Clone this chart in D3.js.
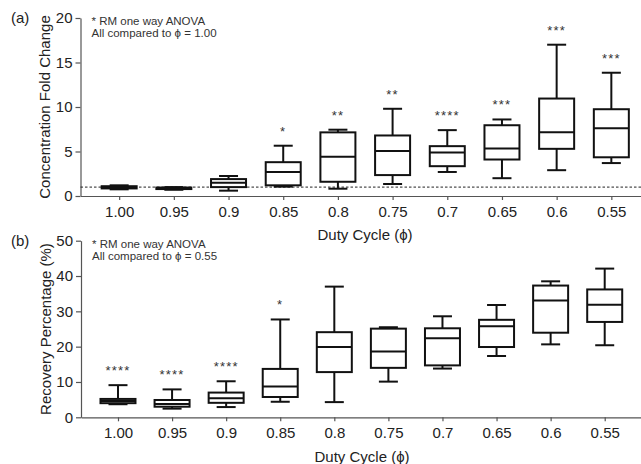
<!DOCTYPE html>
<html lang="en">
  <head>
    <meta charset="utf-8">
    <title>Duty cycle box plots</title>
    <script src="https://d3js.org/d3.v7.min.js"></script>
    <style>
      body { margin: 0; background: #fff; }
      text { font-family: "Liberation Sans", Arial, sans-serif; }
    </style>
  </head>
  <body>
  <script>

// data
  var dutyCycles = ["1.00", "0.95", "0.9", "0.85", "0.8", "0.75", "0.7", "0.65", "0.6", "0.55"];

  var foldMin = [0.75, 0.7, 0.6, 1.05, 0.82, 1.35, 2.7, 2.0, 2.9, 3.7];
  var foldQ1  = [0.85, 0.78, 1.0, 1.2, 1.6, 2.35, 3.35, 4.1, 5.3, 4.35];
  var foldMed = [1.0, 0.85, 1.5, 2.7, 4.4, 5.05, 4.9, 5.35, 7.15, 7.6];
  var foldQ3  = [1.1, 0.95, 1.9, 3.8, 7.15, 6.8, 5.6, 7.95, 10.95, 9.75];
  var foldMax = [1.2, 1.0, 2.25, 5.65, 7.45, 9.8, 7.4, 8.6, 17.0, 13.85];
  var foldStars = ["", "", "", "*", "**", "**", "****", "***", "***", "***"];
  var foldTicks = [0, 5, 10, 15, 20];

  var recMin = [3.7, 2.45, 2.9, 4.4, 4.3, 10.1, 13.8, 17.35, 20.65, 20.4];
  var recQ1  = [4.0, 3.0, 4.1, 5.75, 12.8, 14.0, 14.7, 19.9, 23.95, 27.0];
  var recMed = [4.6, 3.8, 5.4, 8.7, 19.9, 18.6, 22.4, 25.8, 33.1, 31.9];
  var recQ3  = [5.2, 4.9, 7.0, 13.7, 24.1, 25.1, 25.2, 27.6, 37.3, 36.2];
  var recMax = [9.1, 7.9, 10.2, 27.7, 37.0, 25.5, 28.6, 31.8, 38.5, 42.1];
  var recStars = ["****", "****", "****", "*", "", "", "", "", "", ""];
  var recTicks = [0, 10, 20, 30, 40, 50];

  var w = 641;
  var h = 464;
  var boxW = 35;
  var capHalf = 9.5;
  var ink = "#111";
  var axisCol = "#555";

  var svg = d3.select("body")
    .append("svg")
      .attr("width", w)
      .attr("height", h);

  function rows(mins, q1s, meds, q3s, maxs, stars) {
    return dutyCycles.map((c, i) => ({cat: c, min: mins[i], q1: q1s[i], med: meds[i],
      q3: q3s[i], max: maxs[i], star: stars[i]}));
  }

  function drawPanel(opt) {
    var g = svg.append("g");
    var x = d3.scalePoint()
        .domain(dutyCycles)
        .range(opt.xRange)
        .padding(opt.pad);
    var y = d3.scaleLinear()
        .domain([0, opt.yMax])
        .range([opt.y0, opt.y1]);

    // y axis
    var yAx = g.append("g")
        .attr("transform", `translate(${opt.xRange[0]},0)`)
        .call(d3.axisLeft(y).tickValues(opt.ticks).tickSize(5).tickSizeOuter(0).tickPadding(3));
    yAx.select(".domain").attr("stroke", axisCol).attr("stroke-width", 1.2);
    yAx.selectAll(".tick line").attr("stroke", axisCol).attr("stroke-width", 1.2);
    yAx.selectAll("text").attr("font-size", 15).attr("fill", "#222")
        .attr("font-family", "Liberation Sans, Arial, sans-serif");

    // x axis
    var xAx = g.append("g")
        .attr("transform", `translate(0,${opt.y0})`)
        .call(d3.axisBottom(x).tickSize(4).tickSizeOuter(0).tickPadding(6));
    xAx.select(".domain").attr("stroke", axisCol).attr("stroke-width", 1.2);
    xAx.selectAll(".tick line").attr("stroke", axisCol).attr("stroke-width", 1.2);
    xAx.selectAll("text").attr("font-size", 15).attr("fill", "#222")
        .attr("font-family", "Liberation Sans, Arial, sans-serif");

    // reference line
    if (opt.refLine != null) {
      g.append("line")
          .attr("x1", opt.xRange[0])
          .attr("x2", w)
          .attr("y1", y(opt.refLine))
          .attr("y2", y(opt.refLine))
          .attr("stroke", "#222")
          .attr("stroke-width", 1)
          .attr("stroke-dasharray", "2.5,2");
    }

    var box = g.selectAll("g.box")
        .data(opt.data)
      .enter().append("g")
        .attr("class", "box")
        .attr("fill", "none")
        .attr("stroke", ink)
        .attr("stroke-width", 2);

    // whiskers
    box.append("line")
        .attr("x1", d => x(d.cat)).attr("x2", d => x(d.cat))
        .attr("y1", d => y(d.max)).attr("y2", d => y(d.q3));
    box.append("line")
        .attr("x1", d => x(d.cat)).attr("x2", d => x(d.cat))
        .attr("y1", d => y(d.q1)).attr("y2", d => y(d.min));
    box.append("line")
        .attr("x1", d => x(d.cat) - capHalf).attr("x2", d => x(d.cat) + capHalf)
        .attr("y1", d => y(d.max)).attr("y2", d => y(d.max));
    box.append("line")
        .attr("x1", d => x(d.cat) - capHalf).attr("x2", d => x(d.cat) + capHalf)
        .attr("y1", d => y(d.min)).attr("y2", d => y(d.min));

    // box + median
    box.append("rect")
        .attr("x", d => x(d.cat) - boxW / 2)
        .attr("y", d => y(d.q3))
        .attr("width", boxW)
        .attr("height", d => y(d.q1) - y(d.q3))
        .attr("fill", "#fff");
    box.append("line")
        .attr("x1", d => x(d.cat) - boxW / 2).attr("x2", d => x(d.cat) + boxW / 2)
        .attr("y1", d => y(d.med)).attr("y2", d => y(d.med));

    // significance stars
    g.selectAll("text.star")
        .data(opt.data.filter(d => d.star))
      .enter().append("text")
        .attr("class", "star")
        .attr("x", d => x(d.cat))
        .attr("y", d => y(d.max) - 10)
        .attr("text-anchor", "middle")
        .attr("font-size", 13)
        .attr("letter-spacing", 1.2)
        .attr("fill", "#333")
        .text(d => d.star);

    // y label
    g.append("text")
        .attr("transform", `translate(${opt.yLabelX},${(opt.y0 + opt.y1) / 2}) rotate(-90)`)
        .attr("text-anchor", "middle")
        .attr("dy", "0.35em")
        .attr("font-size", 15)
        .attr("fill", "#222")
        .text(opt.yLabel);

    // x label
    g.append("text")
        .attr("x", opt.xLabelX)
        .attr("y", opt.y0 + 39)
        .attr("text-anchor", "middle")
        .attr("dy", "0.35em")
        .attr("font-size", 15)
        .attr("fill", "#222")
        .text("Duty Cycle (\u03D5)");

    // panel letter
    g.append("text")
        .attr("x", 11)
        .attr("y", opt.y1)
        .attr("dy", "0.35em")
        .attr("font-size", 15)
        .attr("fill", "#222")
        .text(opt.letter);

    // ANOVA note
    var note = g.append("text")
        .attr("x", opt.xRange[0] + 11)
        .attr("font-size", 11.5)
        .attr("fill", "#333");
    note.append("tspan").attr("x", opt.xRange[0] + 11).attr("y", opt.y1 + 7).text("* RM one way ANOVA");
    note.append("tspan").attr("x", opt.xRange[0] + 11).attr("y", opt.y1 + 19).text(opt.compare);
  }

  drawPanel({
    data: rows(foldMin, foldQ1, foldMed, foldQ3, foldMax, foldStars),
    xRange: [80.5, 650], pad: 0.707,
    y0: 196, y1: 18, yMax: 20, ticks: foldTicks,
    refLine: 1,
    yLabel: "Concentration  Fold Change", yLabelX: 45,
    xLabelX: 365,
    letter: "(a)",
    compare: "All compared to \u03D5 = 1.00"
  });

  drawPanel({
    data: rows(recMin, recQ1, recMed, recQ3, recMax, recStars),
    xRange: [81, 641.7], pad: 0.684,
    y0: 417.3, y1: 240.7, yMax: 50, ticks: recTicks,
    refLine: null,
    yLabel: "Recovery Percentage (%)", yLabelX: 46,
    xLabelX: 362,
    letter: "(b)",
    compare: "All compared to \u03D5 = 0.55"
  });

  </script>
  </body>
</html>
